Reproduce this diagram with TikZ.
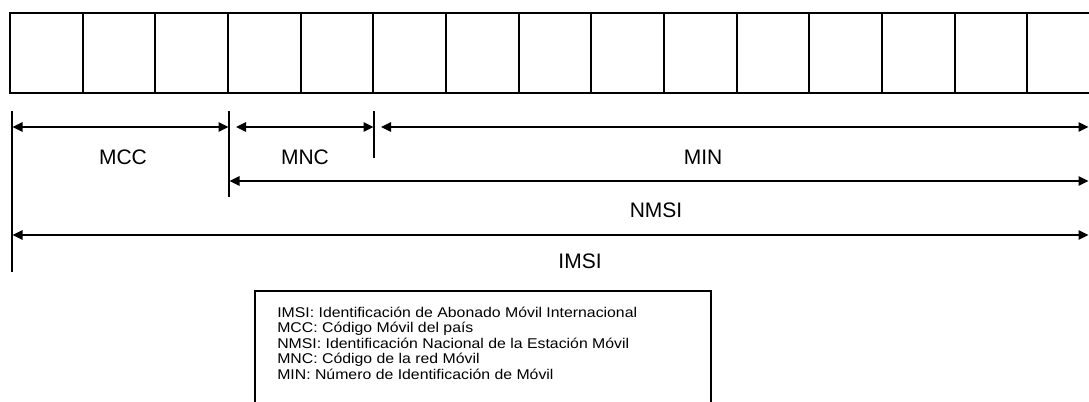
\documentclass[tikz,border=0pt]{standalone}
\usepackage{fontspec}
\setmainfont{Liberation Sans}
\newfontfamily\legendfont{Liberation Sans}[FakeStretch=1.12]
\usetikzlibrary{arrows.meta}
\tikzset{
  cell/.style={draw, line width=1.5pt, minimum width=54.5pt, minimum height=60pt,
    inner sep=0pt, outer sep=0pt, anchor=north west},
  tick/.style={line width=1.1pt},
  dim/.style={line width=1.5pt,
    {Triangle[length=7.5pt,width=7pt]}-{Triangle[length=7.5pt,width=7pt]}},
  lab/.style={inner sep=0pt, font=\fontsize{15.75pt}{18pt}\selectfont},
  legendbox/.style={draw, line width=1.2pt, anchor=north west, minimum width=342pt,
    minimum height=110pt, inner sep=0pt, outer sep=0pt},
  legendtext/.style={anchor=north west, align=left, inner sep=0pt,
    font=\legendfont\fontsize{10.6pt}{11.7pt}\selectfont}
}
\begin{document}
\begin{tikzpicture}[x=0.75pt,y=-0.75pt]
\path[use as bounding box] (0,0) rectangle (1089,401);
\clip (0,0) rectangle (1089,401);
% register of digits
\foreach \i in {0,...,14}
  \node[cell] (c\i) at ({10+72.66*\i},13) {};
% boundary ticks
\coordinate (t1a) at (12,111);  \coordinate (t1b) at (12,272);
\coordinate (t2a) at (229,111); \coordinate (t2b) at (229,197);
\coordinate (t3a) at (374,111); \coordinate (t3b) at (374,158);
\draw[tick] (t1a) -- (t1b);
\draw[tick] (t2a) -- (t2b);
\draw[tick] (t3a) -- (t3b);
% dimension arrows
\coordinate (mccL) at (12.5,127);  \coordinate (mccR) at (228.5,127);
\coordinate (mncL) at (236,127);   \coordinate (mncR) at (373.5,127);
\coordinate (minL) at (381,127);   \coordinate (minR) at (1088.5,127);
\coordinate (nmsiL) at (229.5,181); \coordinate (nmsiR) at (1088.5,181);
\coordinate (imsiL) at (12.5,235);  \coordinate (imsiR) at (1088.5,235);
\draw[dim] (mccL) -- (mccR);
\draw[dim] (mncL) -- (mncR);
\draw[dim] (minL) -- (minR);
\draw[dim] (nmsiL) -- (nmsiR);
\draw[dim] (imsiL) -- (imsiR);
% labels
\node[lab] (mcc) at (123,157) {MCC};
\node[lab] (mnc) at (305,157) {MNC};
\node[lab] (min) at (703,157) {MIN};
\node[lab] (nmsi) at (656,210) {NMSI};
\node[lab] (imsi) at (580,261) {IMSI};
% legend
\node[legendbox] (legend) at (254.7,291) {};
\node[legendtext] (legtext) at (277,306.5) {IMSI: Identificación de Abonado Móvil Internacional\\
MCC: Código Móvil del país\\
NMSI: Identificación Nacional de la Estación Móvil\\
MNC: Código de la red Móvil\\
MIN: Número de Identificación de Móvil};
\end{tikzpicture}
\end{document}
